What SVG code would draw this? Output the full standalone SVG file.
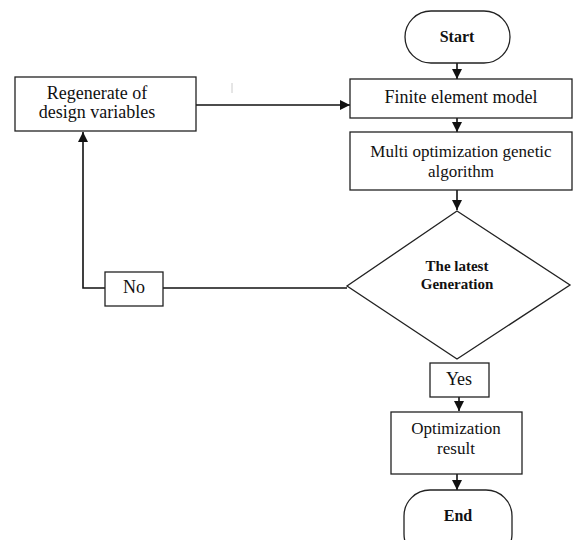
<svg xmlns="http://www.w3.org/2000/svg" width="584" height="540" viewBox="0 0 584 540">
<style>
.box{fill:#fff;stroke:#222;stroke-width:1.3}
.t{font-family:"Liberation Serif","Times New Roman",serif;font-size:18px;fill:#111;text-anchor:middle}
.s{font-size:17px}
.b{font-weight:bold;font-size:16px}
.c{fill:none;stroke:#111;stroke-width:1.6}
</style>
<defs>
<marker id="ah" viewBox="0 0 10 10" refX="10" refY="5" markerWidth="10" markerHeight="10" markerUnits="userSpaceOnUse" orient="auto">
<path d="M0,0 L10,5 L0,10 z" fill="#111"/>
</marker>
</defs>
<rect width="584" height="540" fill="#fff"/>
<g id="connectors">
<line class="c" x1="457" y1="63" x2="457" y2="79" marker-end="url(#ah)"/>
<line class="c" x1="457" y1="118" x2="457" y2="132" marker-end="url(#ah)"/>
<line class="c" x1="457" y1="190" x2="457" y2="210" marker-end="url(#ah)"/>
<line class="c" x1="459" y1="397" x2="459" y2="411" marker-end="url(#ah)"/>
<line class="c" x1="457" y1="474" x2="457" y2="490" marker-end="url(#ah)"/>
<line class="c" x1="196" y1="105" x2="350" y2="105" marker-end="url(#ah)"/>
<line class="c" x1="347" y1="288" x2="163" y2="288"/>
<polyline class="c" points="105,288 83,288 83,132" marker-end="url(#ah)"/>
<line x1="232" y1="83" x2="232" y2="93" stroke="#ccc" stroke-width="1"/>
</g>
<g id="start">
<rect class="box" x="405" y="11" width="105" height="52" rx="26"/>
<text class="t b" x="457" y="42">Start</text>
</g>
<g id="fem">
<rect class="box" x="350" y="79" width="222" height="39"/>
<text class="t" x="461" y="103">Finite element model</text>
</g>
<g id="moga">
<rect class="box" x="350" y="132" width="222" height="58"/>
<text class="t s" x="461" y="157">Multi optimization genetic</text>
<text class="t s" x="461" y="177">algorithm</text>
</g>
<g id="decision">
<polygon class="box" points="457,211 570,285 457,359 347,286"/>
<text class="t b" x="457" y="271" style="font-size:15px">The latest</text>
<text class="t b" x="457" y="289" style="font-size:15px">Generation</text>
</g>
<g id="yes">
<rect class="box" x="430" y="363" width="59" height="34"/>
<text class="t" x="459" y="385">Yes</text>
</g>
<g id="result">
<rect class="box" x="391" y="412" width="131" height="62"/>
<text class="t s" x="456" y="434">Optimization</text>
<text class="t s" x="456" y="454">result</text>
</g>
<g id="end">
<rect class="box" x="404" y="490" width="108" height="70" rx="26"/>
<text class="t b" x="458" y="521">End</text>
</g>
<g id="regen">
<rect class="box" x="15" y="77" width="181" height="54"/>
<text class="t s" x="97" y="99" style="font-size:18px">Regenerate of</text>
<text class="t s" x="97" y="118" style="font-size:18px">design variables</text>
</g>
<g id="no">
<rect class="box" x="105" y="272" width="58" height="34"/>
<text class="t" x="134" y="293">No</text>
</g>
</svg>
